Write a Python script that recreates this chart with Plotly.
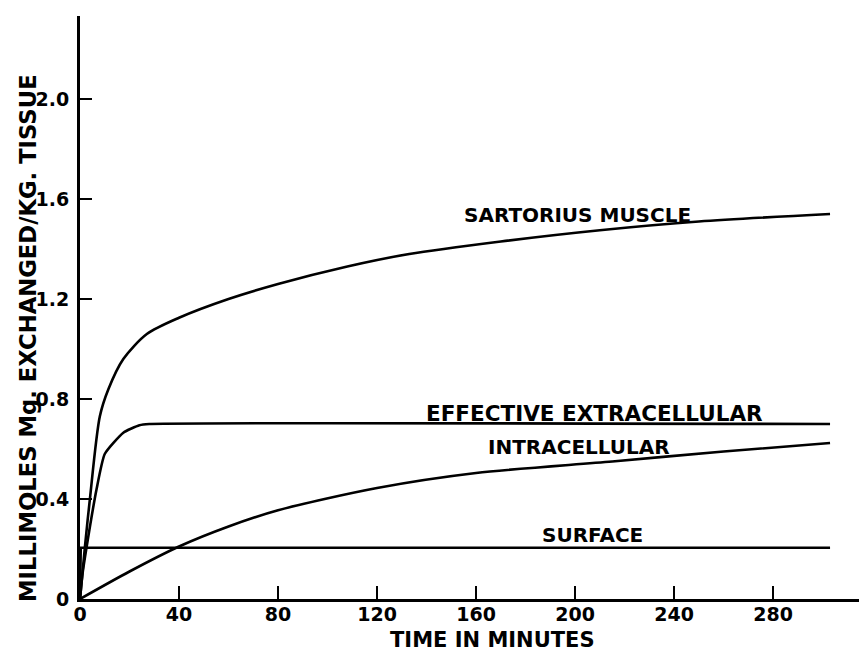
import plotly.graph_objects as go

# ---- data ----
sart_t = [0, 2, 4, 8, 11.5, 17.5, 27, 40, 60, 80, 108, 133, 170, 210, 250, 303]
sart_v = [0, 0.21, 0.40, 0.73, 0.84, 0.96, 1.06, 1.125, 1.20, 1.26, 1.33, 1.38, 1.43, 1.475, 1.51, 1.54]

extra_t = [0, 1, 2.7, 6.7, 10, 17.5, 24, 28, 303]
extra_v = [0, 0.10, 0.21, 0.44, 0.58, 0.665, 0.695, 0.70, 0.70]

intra_t = [0, 20, 40, 60, 80, 120, 160, 215, 260, 303]
intra_v = [0, 0.11, 0.21, 0.29, 0.355, 0.444, 0.504, 0.55, 0.59, 0.624]

surf_t = [0, 0.3, 303]
surf_v = [0, 0.205, 0.205]

x_ticks = [0, 40, 80, 120, 160, 200, 240, 280]
y_ticks = [0, 0.4, 0.8, 1.2, 1.6, 2.0]
y_tick_text = ["0", "0.4", "0.8", "1.2", "1.6", "2.0"]

labels = ["SARTORIUS MUSCLE", "EFFECTIVE EXTRACELLULAR", "INTRACELLULAR", "SURFACE"]

FONT = "DejaVu Sans"
fig = go.Figure()
line = dict(color="black", width=2.6)
fig.add_trace(go.Scatter(x=sart_t, y=sart_v, mode="lines", line=dict(**line, shape="spline", smoothing=0.8)))
fig.add_trace(go.Scatter(x=extra_t, y=extra_v, mode="lines", line=dict(**line, shape="spline", smoothing=0.5)))
fig.add_trace(go.Scatter(x=intra_t, y=intra_v, mode="lines", line=dict(**line, shape="spline", smoothing=0.8)))
fig.add_trace(go.Scatter(x=surf_t, y=surf_v, mode="lines", line=line))

lab_pos = [(201, 1.538), (208, 0.744), (201.6, 0.608), (207, 0.256)]
lab_size = [20, 21.5, 20, 20]
for txt, (lx, ly), sz in zip(labels, lab_pos, lab_size):
    fig.add_annotation(x=lx, y=ly, xref="x", yref="y", text="<b>%s</b>" % txt, showarrow=False,
                       xanchor="center", yanchor="middle",
                       font=dict(family=FONT, size=sz, color="black"))

fig.add_annotation(x=0.530, y=-0.0703, xref="paper", yref="paper", text="<b>TIME IN MINUTES</b>",
                   xanchor="center", yanchor="middle",
                   showarrow=False, font=dict(family=FONT, size=21, color="black"))
fig.add_annotation(x=-0.0668, y=0.4477, xref="paper", yref="paper", textangle=-90,
                   xanchor="center", yanchor="middle",
                   text="<b>MILLIMOLES Mg. EXCHANGED/KG. TISSUE</b>",
                   showarrow=False, font=dict(family=FONT, size=22.7, color="black"))

fig.update_layout(
    width=859, height=652,
    margin=dict(l=80, r=0, t=16, b=53),
    paper_bgcolor="white", plot_bgcolor="white",
    showlegend=False,
    xaxis=dict(range=[0, 314.7], showgrid=False, zeroline=False, showline=True, linecolor="black",
               linewidth=3, ticks="inside", ticklen=13, tickwidth=2, tickcolor="black",
               tickvals=x_ticks, ticktext=[str(v) for v in x_ticks],
               tickfont=dict(family=FONT, size=19, color="black", weight="bold"), ticklabelstandoff=-4),
    yaxis=dict(range=[0, 2.332], showgrid=False, zeroline=False, showline=True, linecolor="black",
               linewidth=3, ticks="inside", ticklen=12, tickwidth=2, tickcolor="black",
               tickvals=y_ticks, ticktext=y_tick_text,
               tickfont=dict(family=FONT, size=19, color="black", weight="bold"), ticklabelstandoff=4),
)
fig.write_html("out.html", config={"displayModeBar": False})

# remove the default page margin so the figure sits at the window's corner
with open("out.html", "r", encoding="utf-8") as f:
    html = f.read()
html = html.replace("<body>", '<body style="margin:0;overflow:hidden">', 1)
with open("out.html", "w", encoding="utf-8") as f:
    f.write(html)
